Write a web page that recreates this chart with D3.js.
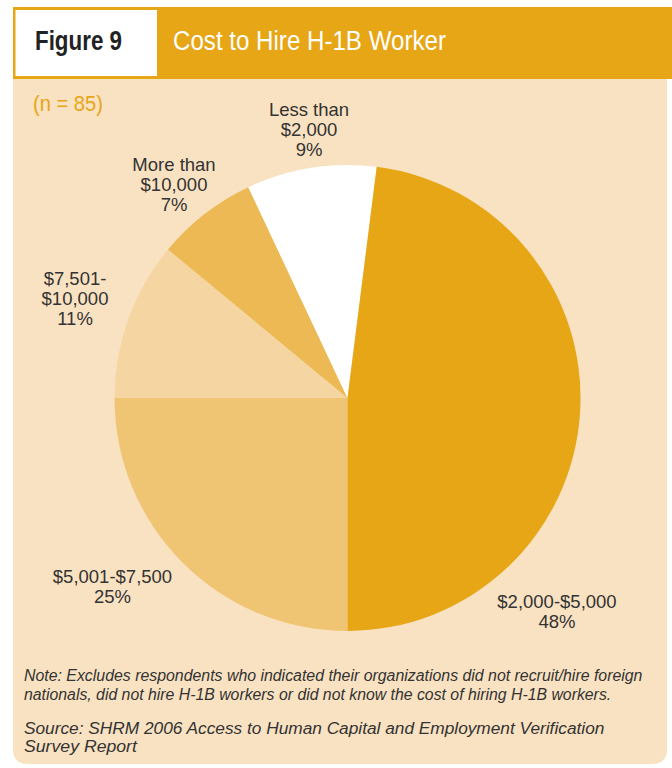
<!DOCTYPE html>
<html>
<head>
<meta charset="utf-8">
<script src="https://cdn.jsdelivr.net/npm/d3@7"></script>
<style>
  html, body { margin: 0; padding: 0; background: #ffffff; }
  svg { display: block; }
</style>
</head>
<body>
<svg id="chart" width="672" height="768"></svg>
<script>
// Cost ranges, clockwise from the bottom of the pie
const categories = ["$5,001-$7,500", "$7,501-$10,000", "More than $10,000", "Less than $2,000", "$2,000-$5,000"];
const shares = [25, 11, 7, 9, 48];
const sliceColors = ["#EFC473", "#F5D6A2", "#EDB955", "#FFFFFF", "#E6A615"];
// Label lines for each slice
const labelLines = [
  ["$5,001-$7,500", "25%"],
  ["$7,501-", "$10,000", "11%"],
  ["More than", "$10,000", "7%"],
  ["Less than", "$2,000", "9%"],
  ["$2,000-$5,000", "48%"]
];
const noteLines = [
  "Note: Excludes respondents who indicated their organizations did not recruit/hire foreign",
  "nationals, did not hire H-1B workers or did not know the cost of hiring H-1B workers."
];
const sourceLines = [
  "Source: SHRM 2006 Access to Human Capital and Employment Verification",
  "Survey Report"
];

const svg = d3.select("#chart");
const orange = "#E6A615";
const peach = "#F9E2C1";
const ink = "#333333";
const sans = "'Liberation Sans', Arial, sans-serif";

// Condensed text: draw the regular face at the origin, then squeeze it
// horizontally to the wanted width and move it into place.
function condensedText(parent, str, x, y, width, attrs) {
  const t = parent.append("text").attr("x", 0).attr("y", 0).attr("font-family", sans);
  Object.entries(attrs).forEach(([k, v]) => t.attr(k, v));
  t.text(str);
  const natural = t.node().getComputedTextLength();
  t.attr("transform", `translate(${x},${y}) scale(${width / natural},1)`);
  return t;
}

// Panel with rounded bottom corners
const px0 = 13, px1 = 667, py0 = 79, py1 = 764, r = 15;
svg.append("path")
  .attr("d", `M${px0},${py0} H${px1} V${py1 - r} Q${px1},${py1} ${px1 - r},${py1} H${px0 + r} Q${px0},${py1} ${px0},${py1 - r} Z`)
  .attr("fill", peach);

// Header band
svg.append("rect").attr("x", 13).attr("y", 7).attr("width", 672 - 13).attr("height", 72).attr("fill", orange);
svg.append("rect").attr("x", 15.5).attr("y", 10).attr("width", 141.5).attr("height", 66).attr("fill", "#ffffff");
condensedText(svg, "Figure 9", 35, 50, 87,
  { "font-weight": "bold", "font-size": 28, "fill": "#222" });
condensedText(svg, "Cost to Hire H-1B Worker", 173, 50, 273,
  { "font-size": 28, "fill": "#ffffff" });
condensedText(svg, "(n = 85)", 33, 111, 70,
  { "font-size": 22, "fill": orange });

// Pie
const cx = 347.5, cy = 398, radius = 233;
const pie = d3.pie().sort(null).value(d => d).startAngle(Math.PI).endAngle(3 * Math.PI);
const arcs = pie(shares);
const arc = d3.arc().innerRadius(0).outerRadius(radius);
const g = svg.append("g").attr("transform", `translate(${cx},${cy})`);
g.selectAll("path.slice")
  .data(arcs)
  .join("path")
  .attr("class", "slice")
  .attr("d", arc)
  .attr("fill", (d, i) => sliceColors[i]);

// Label anchor positions (centre x, first baseline)
const labelPos = [
  [112.5, 583],
  [75, 285],
  [174, 171],
  [309, 116],
  [557, 608]
];
const lineH = 20;
labelLines.forEach((lines, i) => {
  const t = svg.append("text")
    .attr("text-anchor", "middle")
    .attr("font-family", sans)
    .attr("font-size", 18.5).attr("fill", ink);
  lines.forEach((ln, j) => {
    t.append("tspan").attr("x", labelPos[i][0]).attr("y", labelPos[i][1] + j * lineH).text(ln);
  });
});

// Footnotes
const noteW = [619, 588];
noteLines.forEach((ln, j) => condensedText(svg, ln, 24, 681 + j * 19, noteW[j],
  { "font-style": "italic", "font-size": 17, "fill": ink }));
const srcW = [581, 113];
sourceLines.forEach((ln, j) => condensedText(svg, ln, 24, 734 + j * 18, srcW[j],
  { "font-style": "italic", "font-size": 17, "fill": ink }));
</script>
</body>
</html>
